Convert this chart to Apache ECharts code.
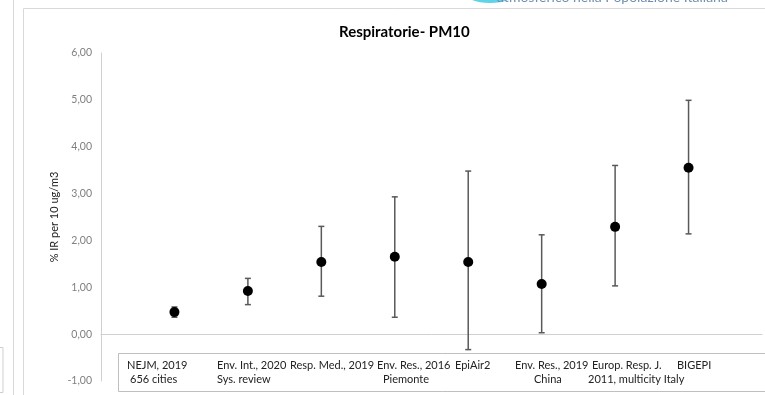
<!DOCTYPE html>
<html>
<head>
<meta charset="utf-8">
<script src="https://cdn.jsdelivr.net/npm/echarts@6/dist/echarts.min.js"></script>
<style>
  html, body { margin: 0; padding: 0; background: #fff; }
  #chart { width: 765px; height: 395px; }
</style>
</head>
<body>
<div id="chart"></div>
<script>
// studi (posizione sull'asse x = 1..8)
const studyLine1 = ['NEJM, 2019', 'Env. Int., 2020', 'Resp. Med., 2019', 'Env. Res., 2016', 'EpiAir2', 'Env. Res., 2019', 'Europ. Resp. J.', 'BIGEPI']
const studyLine2 = ['656 cities', 'Sys. review', '', 'Piemonte', '', 'China', '2011, multicity Italy', '']
// % IR per 10 ug/m3 con intervallo di confidenza
const estimate = [0.47, 0.92, 1.54, 1.65, 1.54, 1.07, 2.29, 3.55]
const lower = [0.36, 0.63, 0.81, 0.36, -0.33, 0.03, 1.03, 2.14]
const upper = [0.58, 1.19, 2.30, 2.93, 3.48, 2.12, 3.60, 4.99]
const yTicks = [-1, 0, 1, 2, 3, 4, 5, 6]

const chart = echarts.init(document.getElementById('chart'))

const points = estimate.map((v, i) => [i + 1, v])
const bars = estimate.map((v, i) => [i + 1, lower[i], upper[i]])

// posizione (px) del testo delle etichette nel riquadro
const labelLeft = [127, 217, 290, 377, 455, 515, 592, 677]
const label2Left = [130, 217, 290, 383, 455, 534, 588, 677]

const labelTexts = []
studyLine1.forEach((t, i) => {
  labelTexts.push({ type: 'text', z: 11, style: { x: labelLeft[i], y: 360, text: t, font: '11px Lato', fill: '#222' } })
  if (studyLine2[i]) {
    labelTexts.push({ type: 'text', z: 11, style: { x: label2Left[i], y: 374, text: studyLine2[i], font: '11px Lato', fill: '#222' } })
  }
})

chart.setOption({
  animation: false,
  textStyle: { fontFamily: 'Lato' },
  title: {
    text: 'Respiratorie- PM10',
    left: 334,
    top: 20,
    textStyle: { fontSize: 15, fontWeight: 'bold', color: '#000', fontFamily: 'Lato' }
  },
  grid: { left: 101, right: 3, top: 53, bottom: 14 },
  xAxis: {
    type: 'value',
    min: 0,
    max: 9,
    axisLine: { show: true, onZero: true, lineStyle: { color: '#d0d0d0', width: 1 } },
    axisTick: { show: false },
    axisLabel: { show: false },
    splitLine: { show: false }
  },
  yAxis: {
    type: 'value',
    min: yTicks[0],
    max: yTicks[yTicks.length - 1],
    interval: 1,
    name: '% IR per 10 ug/m3',
    nameLocation: 'middle',
    nameGap: 41,
    nameMoveOverlap: false,
    nameRotate: 90,
    nameTextStyle: { fontSize: 11, color: '#222' },
    axisLine: { show: true, lineStyle: { color: '#d0d0d0', width: 1 } },
    axisTick: { show: false },
    splitLine: { show: false },
    axisLabel: {
      margin: 9,
      fontSize: 10.5,
      color: '#808080',
      formatter: v => v.toFixed(2).replace('.', ',')
    }
  },
  graphic: [
    // cornice della slide
    { type: 'line', shape: { x1: 13.5, y1: 0, x2: 13.5, y2: 395 }, style: { stroke: '#d9d9d9', lineWidth: 1 } },
    { type: 'line', shape: { x1: 23.5, y1: 8.5, x2: 23.5, y2: 395 }, style: { stroke: '#d9d9d9', lineWidth: 1 } },
    { type: 'line', shape: { x1: 23.5, y1: 8.5, x2: 765, y2: 8.5 }, style: { stroke: '#d9d9d9', lineWidth: 1 } },
    { type: 'rect', shape: { x: -5, y: 347.5, width: 8, height: 45 }, style: { fill: 'none', stroke: '#cfcfcf', lineWidth: 1 } },
    { type: 'ellipse', shape: { cx: 490, cy: -6, rx: 24, ry: 9 }, style: { fill: '#5fd3e8' } },
    { type: 'text', left: 497, top: -10, style: { text: 'atmosferico nella Popolazione Italiana', font: '14px Lato', fill: '#6f8fb0' } },
    // riquadro etichette
    { type: 'rect', z: 10, shape: { x: 118.5, y: 353.5, width: 700, height: 38 }, style: { fill: '#fff', stroke: '#bfbfbf', lineWidth: 1 } }
  ].concat(labelTexts),
  series: [
    {
      type: 'custom',
      data: bars,
      renderItem: (params, api) => {
        const x = api.coord([api.value(0), api.value(1)])[0]
        const lo = api.coord([api.value(0), api.value(1)])[1]
        const hi = api.coord([api.value(0), api.value(2)])[1]
        const st = { stroke: '#595959', lineWidth: 1.5 }
        return {
          type: 'group',
          children: [
            { type: 'line', shape: { x1: x, y1: hi, x2: x, y2: lo }, style: st },
            { type: 'line', shape: { x1: x - 3, y1: hi, x2: x + 3, y2: hi }, style: st },
            { type: 'line', shape: { x1: x - 3, y1: lo, x2: x + 3, y2: lo }, style: st }
          ]
        }
      },
      z: 2
    },
    {
      type: 'scatter',
      data: points,
      symbol: 'circle',
      symbolSize: 10,
      itemStyle: { color: '#000', opacity: 1 },
      z: 3
    }
  ]
})
</script>
</body>
</html>
